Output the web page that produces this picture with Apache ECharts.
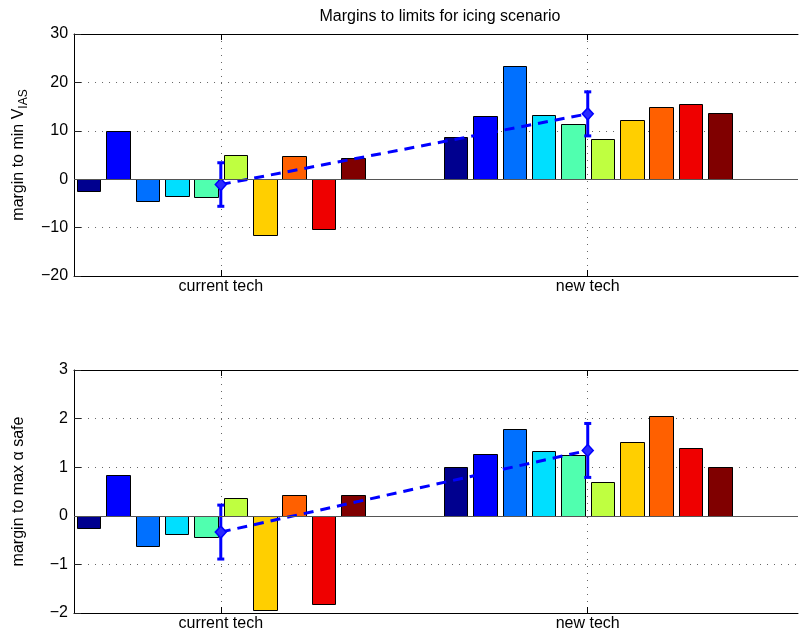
<!DOCTYPE html>
<html>
<head>
<meta charset="utf-8">
<script src="https://cdn.jsdelivr.net/npm/echarts@6/dist/echarts.min.js"></script>
<style>
  html, body { margin: 0; padding: 0; background: #fff; }
  #chart { width: 799px; height: 634px; }
</style>
</head>
<body>
<div id="chart"></div>
<script>
// Technology groups on the x axis
const categories = ['current tech', 'new tech'];

// Margin to minimum indicated airspeed, ten cases per technology
const vIasCurrent = [-2.4, 9.9, -4.6, -3.4, -3.7, 4.95, -11.6, 4.7, -10.2, 4.3];
const vIasNew     = [8.7, 13.1, 23.4, 13.3, 11.5, 8.4, 12.3, 15.0, 15.6, 13.7];
const vIasMean    = [-1.1, 13.5];
const vIasErr     = [4.5, 4.55];
const vIasTicks   = [-20, -10, 0, 10, 20, 30];

// Margin to maximum safe angle of attack, ten cases per technology
const alphaCurrent = [-0.25, 0.845, -0.62, -0.37, -0.43, 0.37, -1.93, 0.42, -1.82, 0.42];
const alphaNew     = [1.0, 1.28, 1.79, 1.33, 1.26, 0.69, 1.51, 2.06, 1.39, 1.0];
const alphaMean    = [-0.335, 1.345];
const alphaErr     = [0.555, 0.555];
const alphaTicks   = [-2, -1, 0, 1, 2, 3];

// Jet colour map sampled for the ten cases
const jet = ['#00008f', '#0000ff', '#0070ff', '#00dfff', '#50ffaf',
             '#bfff40', '#ffcf00', '#ff6000', '#ef0000', '#800000'];

const FONT = '"Liberation Sans", Arial, Helvetica, sans-serif';
const N = jet.length;
const SLOT = 0.8 / N;        // grouped bar slot width in x units
const BAR_W = SLOT * 0.8;    // bar face width in x units
const X_MIN = 0.6, X_MAX = 2.573;
const minus = v => String(v).replace('-', '\u2212');

function barData(cur, nw) {
  const out = [];
  cur.forEach((v, s) => out.push([1, s, v]));
  nw.forEach((v, s) => out.push([2, s, v]));
  return out;
}

function renderBar(params, api) {
  const g = api.value(0), s = api.value(1), v = api.value(2);
  const xc = g + (s - (N - 1) / 2) * SLOT;
  const a = api.coord([xc - BAR_W / 2, v]);
  const b = api.coord([xc + BAR_W / 2, 0]);
  const x0 = Math.round(a[0]) + 0.5, x1 = Math.round(b[0]) + 0.5;
  const yTop = Math.round(Math.min(a[1], b[1])) + 0.5;
  const yBot = Math.round(Math.max(a[1], b[1])) + 0.5;
  return {
    type: 'rect',
    shape: { x: x0, y: yTop, width: x1 - x0, height: yBot - yTop },
    style: { fill: jet[s], stroke: '#000', lineWidth: 1 }
  };
}

function renderErr(params, api) {
  const x = api.value(0), m = api.value(1), e = api.value(2);
  const t = api.coord([x, m + e]);
  const b = api.coord([x, m - e]);
  const cap = 3.5;
  const st = { stroke: '#0000ff', lineWidth: 3 };
  return {
    type: 'group',
    children: [
      { type: 'line', shape: { x1: t[0], y1: t[1], x2: b[0], y2: b[1] }, style: st },
      { type: 'line', shape: { x1: t[0] - cap, y1: t[1], x2: t[0] + cap, y2: t[1] }, style: st },
      { type: 'line', shape: { x1: b[0] - cap, y1: b[1], x2: b[0] + cap, y2: b[1] }, style: st }
    ]
  };
}

function xAxes(gi) {
  return [{
    gridIndex: gi, type: 'value', min: X_MIN, max: X_MAX, position: 'bottom',
    axisLine: { show: true, onZero: false, lineStyle: { color: '#000', width: 1 } },
    axisTick: { show: true, inside: true, length: 6, customValues: [1, 2],
                lineStyle: { color: '#000', width: 1 } },
    axisLabel: { show: true, customValues: [1, 2], margin: 3, fontSize: 16, color: '#000',
                 fontFamily: FONT, formatter: v => categories[Math.round(v) - 1] },
    splitLine: { show: true, lineStyle: { color: '#666', width: 1, type: [1, 6] } }
  }, {
    gridIndex: gi, type: 'value', min: X_MIN, max: X_MAX, position: 'top',
    axisLine: { show: true, onZero: false, lineStyle: { color: '#000', width: 1 } },
    axisTick: { show: true, inside: true, length: 6, customValues: [1, 2],
                lineStyle: { color: '#000', width: 1 } },
    axisLabel: { show: false },
    splitLine: { show: false }
  }];
}

function yAxis(gi, ticks, name) {
  return {
    gridIndex: gi, type: 'value',
    min: ticks[0], max: ticks[ticks.length - 1], interval: ticks[1] - ticks[0],
    axisLine: { show: true, onZero: false, lineStyle: { color: '#000', width: 1 } },
    axisTick: { show: true, inside: true, length: 7, lineStyle: { color: '#222', width: 1 } },
    axisLabel: { margin: 6, fontSize: 16, color: '#000', fontFamily: FONT, formatter: minus },
    splitLine: { show: true, lineStyle: { color: '#666', width: 1, type: [1, 6] } },
    name: name, nameLocation: 'middle', nameGap: 44, nameRotate: 90,
    nameTextStyle: {
      fontSize: 16, color: '#000', fontFamily: FONT, lineHeight: 22,
      rich: {
        sub: { fontSize: 12, lineHeight: 12, verticalAlign: 'bottom', color: '#000', fontFamily: FONT }
      }
    }
  };
}

function panelSeries(k, cur, nw, mean, err) {
  return [{
    type: 'custom', xAxisIndex: 2 * k, yAxisIndex: k,
    renderItem: renderBar, data: barData(cur, nw),
    encode: { x: 0, y: 2 }, clip: true, z: 2,
    markLine: {
      silent: true, symbol: 'none', label: { show: false },
      lineStyle: { color: '#555', width: 1, type: 'solid' },
      data: [{ yAxis: 0 }], animation: false
    }
  }, {
    type: 'line', xAxisIndex: 2 * k, yAxisIndex: k, z: 4,
    data: mean.map((m, i) => [i + 1, m]),
    lineStyle: { color: '#0000ff', width: 3, type: [10, 7] },
    symbol: 'diamond', symbolSize: [11, 12],
    itemStyle: { color: '#2a2aff', borderColor: '#0000ff', borderWidth: 1.5 }
  }, {
    type: 'custom', xAxisIndex: 2 * k, yAxisIndex: k, z: 3,
    renderItem: renderErr,
    data: mean.map((m, i) => [i + 1, m, err[i]]),
    encode: { x: 0, y: 1 }
  }];
}

const chart = echarts.init(document.getElementById('chart'), null, { renderer: 'canvas' });
chart.setOption({
  animation: false,
  backgroundColor: '#fff',
  textStyle: { fontFamily: FONT },
  title: {
    text: 'Margins to limits for icing scenario',
    left: 435, top: 4, textAlign: 'center',
    textStyle: { fontSize: 16, fontWeight: 'normal', color: '#000', fontFamily: FONT }
  },
  grid: [
    { left: 73, top: 34, width: 725, height: 242, show: false },
    { left: 73, top: 370, width: 725, height: 243, show: false }
  ],
  xAxis: [...xAxes(0), ...xAxes(1)],
  yAxis: [
    yAxis(0, vIasTicks, 'margin to min V{sub|IAS}'),
    yAxis(1, alphaTicks, 'margin to max \u03b1 safe')
  ],
  series: [
    ...panelSeries(0, vIasCurrent, vIasNew, vIasMean, vIasErr),
    ...panelSeries(1, alphaCurrent, alphaNew, alphaMean, alphaErr)
  ]
});
</script>
</body>
</html>
